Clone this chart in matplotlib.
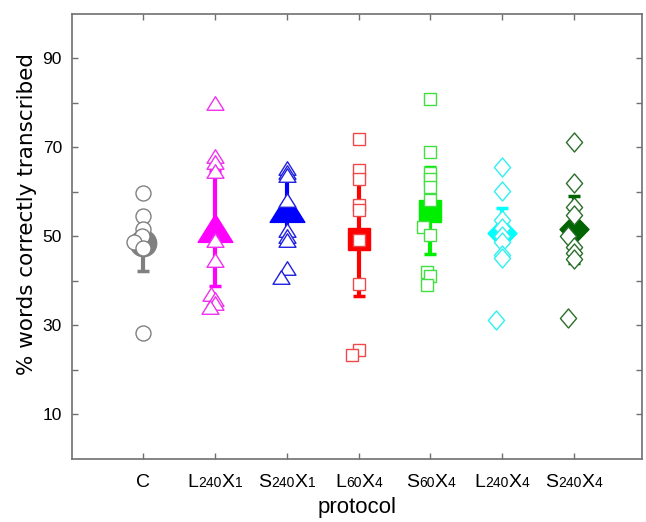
import re
import matplotlib.pyplot as plt
import numpy as np
from matplotlib.path import Path
from matplotlib.offsetbox import TextArea, HPacker, AnnotationBbox

# protocols on the x axis
protocols = ['C', 'L240X1', 'S240X1', 'L60X4', 'S60X4', 'L240X4', 'S240X4']

# individual listener scores (% words correctly transcribed)
c_scores = [59.8, 54.5, 51.6, 50.2, 48.8, 47.4, 28.3]
l240x1_scores = [80.0, 68.0, 66.8, 64.7, 49.2, 44.7, 37.0, 36.0, 35.0, 34.2]
s240x1_scores = [65.5, 64.6, 63.8, 58.2, 51.5, 50.0, 49.3, 42.9, 41.0]
l60x4_scores = [72.0, 65.0, 63.0, 57.0, 56.0, 49.2, 39.3, 24.5, 23.4]
s60x4_scores = [81.0, 69.0, 64.3, 63.0, 61.2, 58.2, 52.2, 50.3, 42.1, 41.1, 39.1]
l240x4_scores = [65.7, 60.2, 53.7, 51.8, 50.0, 48.8, 45.8, 45.1, 31.2]
s240x4_scores = [71.2, 62.0, 56.7, 54.8, 50.0, 47.7, 46.2, 45.0, 31.6]

# small horizontal shifts of overlapping points (in category units)
c_shift = [0, 0, 0, -0.02, -0.13, 0, 0]
l240x1_shift = [0, 0, 0, 0, 0, 0, -0.06, 0, 0, -0.07]
s240x1_shift = [0, 0, 0, 0, 0, 0, 0, 0, -0.09]
l60x4_shift = [0, 0, 0, 0, 0, 0, 0, 0, -0.1]
s60x4_shift = [0, 0, 0, 0, 0, 0, -0.1, 0, -0.05, 0, -0.05]
l240x4_shift = [0, 0, 0, 0, 0, 0, 0, 0, -0.08]
s240x4_shift = [0, 0, 0, 0, -0.09, 0, 0, 0, -0.09]

# group means and error bar half-lengths
means = [48.6, 51.8, 56.3, 49.5, 55.8, 50.7, 51.6]
errs = [6.3, 13.0, 8.3, 12.8, 9.8, 5.8, 7.6]

scores = [c_scores, l240x1_scores, s240x1_scores, l60x4_scores,
          s60x4_scores, l240x4_scores, s240x4_scores]
shifts = [c_shift, l240x1_shift, s240x1_shift, l60x4_shift,
          s60x4_shift, l240x4_shift, s240x4_shift]


def closed(verts):
    verts = list(verts) + [verts[0]]
    codes = [Path.MOVETO] + [Path.LINETO] * (len(verts) - 2) + [Path.CLOSEPOLY]
    return Path(verts, codes)


tri = closed([(-1, -0.8), (1, -0.8), (0, 0.8)])
dia = closed([(0, 1), (0.85, 0), (0, -1), (-0.85, 0)])
dia_big = closed([(0, 1), (0.97, 0), (0, -1), (-0.97, 0)])

colors = ['#808080', '#ff00ff', '#0000ff', '#ff0000', '#00ee00', '#00ffff', '#006400']
edge_colors = ['#808080', '#f030f0', '#2020e0', '#ee4848', '#40e040', '#30f0f0', '#2a6e2a']
small_mk = ['o', tri, tri, 's', 's', dia, dia]
small_ms = [10.8, 12.2, 12.2, 8.6, 8.6, 13.7, 13.7]
big_mk = ['o', tri, tri, 's', 's', dia_big, dia_big]
big_ms = [19, 25, 25, 16, 16, 21.5, 21.5]

plt.rcParams['font.family'] = ['Liberation Sans', 'DejaVu Sans']

fig = plt.figure(figsize=(6.46, 5.22), dpi=100)
ax = fig.add_axes([0.111, 0.1207, 0.883, 0.8525])

xs = np.arange(1, len(protocols) + 1)
for i, x in enumerate(xs):
    ax.errorbar(x, means[i], yerr=errs[i], fmt='none', ecolor=colors[i],
                elinewidth=3, capsize=4, capthick=2.5, zorder=2)
    ax.plot(x, means[i], linestyle='none', marker=big_mk[i], ms=big_ms[i],
            color=colors[i], mec=colors[i], zorder=3)
    ax.plot(x + np.array(shifts[i]), scores[i], linestyle='none',
            marker=small_mk[i], ms=small_ms[i], mfc='white',
            mec=edge_colors[i], mew=1.0, zorder=4)

ax.set_xlim(0, 7.95)
ax.set_ylim(0, 100)
ax.set_xticks(xs)
ax.set_xticklabels([])
# tick labels with smaller digits, as in the original
for x, lab in zip(xs, protocols):
    runs = re.findall(r'[A-Za-z]+|\d+', lab)
    parts = [TextArea(r, textprops=dict(fontsize=10 if r.isdigit() else 14))
             for r in runs]
    pack = HPacker(children=parts, align='baseline', pad=0, sep=0)
    ab = AnnotationBbox(pack, (x, 0), xycoords=('data', 'axes fraction'),
                        xybox=(0, -11), boxcoords='offset points',
                        box_alignment=(0.5, 1.0), frameon=False, pad=0,
                        annotation_clip=False)
    ax.add_artist(ab)

yt = np.arange(10, 100, 10)
ax.set_yticks(yt)
ax.set_yticklabels([str(v) if v % 20 == 10 else '' for v in yt], fontsize=12.5)
ax.tick_params(direction='in', length=4, width=1, color='#707070',
               top=True, right=True)
ax.tick_params(axis='y', pad=7)
for s in ax.spines.values():
    s.set_color('#707070')
    s.set_linewidth(1.2)

ax.set_xlabel('protocol', fontsize=16)
ax.xaxis.set_label_coords(0.5, -0.085)
ax.set_ylabel('% words correctly transcribed', fontsize=15.5, family='DejaVu Sans')
ax.yaxis.set_label_coords(-0.061, 0.55)

plt.savefig('out.png', dpi=100)
print("Done")
